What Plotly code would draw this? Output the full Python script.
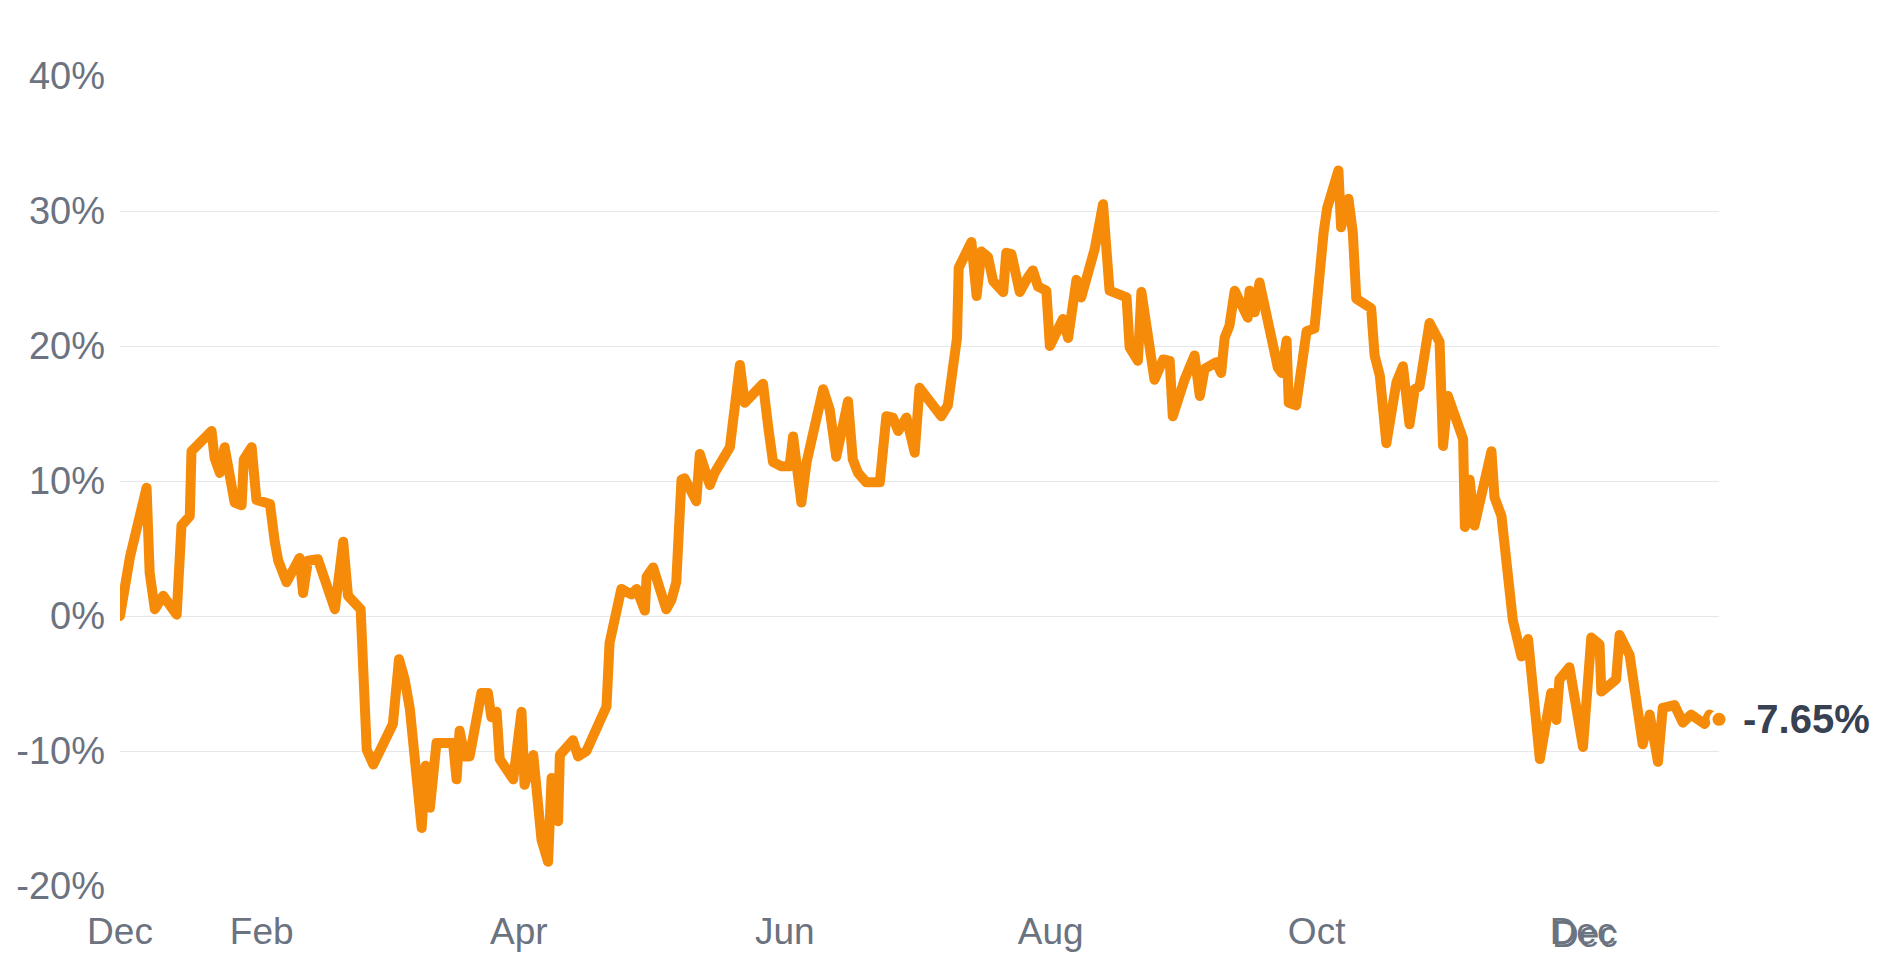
import pandas as pd
import plotly.graph_objects as go

# ---- data: day offsets from 2022-12-30 and cumulative return (%) ----
start_date = "2022-12-30"
day_offsets = [
    0.5, 2.8, 6.6, 7.3, 8.5, 10.4, 13.5, 14.6, 16.5, 16.9, 21.5, 22.2, 23.4, 24.5, 26.8, 28.4, 28.9,
    30.7, 31.8, 34.9, 36.0, 36.8, 38.7, 41.7, 42.5, 43.6, 45.9, 49.8, 51.7, 52.8, 55.7, 56.4, 57.1,
    58.6, 60.8, 63.1, 64.5, 65.8, 67.0, 69.7, 70.6, 71.6, 73.1, 76.9, 77.7, 78.4, 79.6, 80.7, 83.4,
    84.9, 85.7, 86.9, 87.6, 90.7, 92.6, 93.3, 95.3, 97.2, 98.7, 99.5, 101.0, 101.4, 104.4, 105.6,
    107.5, 112.1, 112.8, 113.8, 115.5, 117.8, 119.0, 120.9, 121.3, 122.8, 125.8, 127.0, 128.1,
    129.3, 130.0, 132.7, 133.5, 135.8, 136.9, 140.4, 142.7, 143.8, 148.0, 149.2, 150.3, 152.2,
    154.1, 154.9, 156.8, 158.0, 161.8, 163.3, 164.8, 167.5, 168.6, 169.8, 171.7, 174.8, 176.3,
    177.8, 179.0, 180.9, 182.8, 183.9, 185.1, 188.9, 190.4, 192.0, 192.5, 192.9, 195.8, 197.0,
    198.1, 199.6, 200.8, 203.1, 203.8, 205.0, 206.9, 208.8, 209.9, 211.1, 213.0, 213.8, 216.8,
    218.0, 219.9, 221.0, 224.1, 226.0, 227.1, 227.5, 231.4, 232.1, 234.0, 234.8, 237.8, 239.8,
    241.3, 242.0, 244.7, 247.0, 248.2, 249.3, 252.0, 253.1, 253.9, 255.0, 256.2, 259.2, 259.6,
    260.8, 261.9, 263.8, 266.1, 267.0, 268.1, 268.6, 270.3, 272.7, 274.5, 276.6, 277.4, 280.0,
    280.6, 282.3, 283.3, 284.1, 287.5, 288.3, 289.5, 291.0, 293.3, 294.8, 296.3, 297.5, 298.6,
    300.9, 303.2, 304.0, 305.1, 308.6, 309.0, 310.1, 311.2, 315.1, 315.8, 317.4, 320.0, 322.0,
    323.5, 326.2, 328.8, 330.0, 330.7, 333.0, 336.1, 338.0, 339.9, 340.3, 343.7, 344.5, 346.8,
    349.8, 351.4, 353.3, 354.4, 357.1, 359.0, 360.9, 364.0, 365.1, 367.3,
]
returns_pct = [
    0.0, 4.4, 9.5, 3.2, 0.5, 1.5, 0.1, 6.7, 7.4, 12.2, 13.7, 11.7, 10.6, 12.5, 8.4, 8.2, 11.6,
    12.5, 8.6, 8.3, 5.5, 4.1, 2.5, 4.3, 1.7, 4.1, 4.2, 0.5, 5.5, 1.5, 0.5, -5.9, -9.9,
    -11.0, -9.4, -8.0, -3.2, -4.7, -6.9, -15.7, -11.1, -14.2, -9.4, -9.4, -12.1, -8.5, -10.4, -10.4, -5.7,
    -5.7, -7.5, -7.1, -10.6, -12.1, -7.1, -12.5, -10.3, -16.6, -18.2, -12.0, -15.2, -10.3, -9.2, -10.4,
    -10.0, -6.7, -2.0, -0.3, 2.0, 1.6, 2.0, 0.4, 2.9, 3.6, 0.5, 1.2, 2.5,
    10.1, 10.2, 8.5, 12.0, 9.7, 10.6, 12.5, 18.6, 15.8, 17.2, 14.0, 11.4, 11.1,
    11.1, 13.3, 8.4, 11.4, 16.8, 15.3, 11.8, 15.9, 11.6, 10.6, 9.9, 9.9, 14.8,
    14.7, 13.7, 14.7, 12.1, 16.9, 16.4, 14.8, 15.6, 19.3, 20.6, 25.8, 27.7, 23.7,
    27.0, 26.6, 24.8, 24.0, 26.9, 26.8, 24.0, 25.1, 25.6, 24.4, 24.1, 20.0, 22.0,
    20.6, 24.9, 23.6, 27.2, 30.5, 25.2, 24.1, 23.6, 19.9, 18.9, 24.0, 17.5, 19.0,
    18.9, 14.8, 17.5, 19.3, 16.3, 18.3, 18.8, 18.0, 20.6, 21.5, 24.1, 22.1, 24.1,
    22.5, 24.7, 22.0, 18.4, 18.0, 20.4, 15.8, 15.6, 21.1, 21.3, 28.4, 30.2, 33.0,
    28.8, 30.9, 28.4, 23.5, 22.8, 19.3, 17.8, 12.8, 17.3, 18.5, 14.2, 16.8, 17.0,
    21.7, 20.3, 12.6, 16.3, 13.1, 6.6, 10.1, 6.7, 12.2, 8.8, 7.4, -0.3, -3.0,
    -1.7, -10.6, -5.7, -7.7, -4.7, -3.8, -9.7, -1.6, -2.1, -5.6, -4.7, -1.4, -2.9,
    -9.5, -7.3, -10.8, -6.8, -6.6, -7.9, -7.3, -8.0, -7.3, -7.65,
]
tick_offsets = [0.5, 33, 92, 153, 214, 275, 336]
tick_labels = ["Dec", "Feb", "Apr", "Jun", "Aug", "Oct", "Dec"]
y_ticks = [-20, -10, 0, 10, 20, 30, 40]
y_tick_labels = ["-20%", "-10%", "0%", "10%", "20%", "30%", "40%"]
last_label = "-7.65%"

base = pd.Timestamp(start_date)
dates = [base + pd.Timedelta(days=d) for d in day_offsets]
tick_dates = [base + pd.Timedelta(days=d) for d in tick_offsets]

ORANGE = "#f58b08"
GRID = "#e6e7eb"
TICK = "#6b7280"
DARK = "#374151"
FONT = "Liberation Sans, Arial, sans-serif"

fig = go.Figure()
fig.add_trace(go.Scatter(
    x=dates, y=returns_pct, mode="lines",
    line=dict(color=ORANGE, width=10, shape="linear"),
    hoverinfo="skip", showlegend=False,
))
fig.add_trace(go.Scatter(
    x=[dates[-1]], y=[returns_pct[-1]], mode="markers",
    marker=dict(color=ORANGE, size=16, line=dict(color="white", width=3)),
    hoverinfo="skip", showlegend=False, cliponaxis=False,
))

fig.add_annotation(
    x=dates[-1], y=returns_pct[-1], xref="x", yref="y",
    text=f"<b>{last_label}</b>", showarrow=False, xanchor="left", yanchor="middle",
    xshift=22, font=dict(family=FONT, size=40, color=DARK),
)
# doubled last "Dec" label (overprinted look)
fig.add_annotation(
    x=tick_dates[-1], y=0, xref="x", yref="paper",
    text=tick_labels[-1], showarrow=False, xanchor="center", yanchor="top",
    xshift=2, yshift=-26, font=dict(family=FONT, size=37, color=TICK),
)

fig.update_layout(
    width=1892, height=966,
    margin=dict(l=120, r=173, t=76, b=80),
    paper_bgcolor="white", plot_bgcolor="white",
    font=dict(family=FONT, color=TICK),
)
fig.update_xaxes(
    type="date",
    range=[dates[0], dates[-1]],
    tickmode="array", tickvals=tick_dates, ticktext=tick_labels,
    showgrid=False, zeroline=False, showline=False, ticks="",
    tickfont=dict(family=FONT, size=37, color=TICK),
    ticklabelstandoff=20,
)
fig.update_yaxes(
    range=[-20, 40],
    tickmode="array", tickvals=y_ticks, ticktext=y_tick_labels,
    showgrid=True, gridcolor=GRID, gridwidth=1.2,
    zeroline=False, showline=False, ticks="",
    tickfont=dict(family=FONT, size=38, color=TICK),
    ticklabelstandoff=14,
)

post = (
    "document.body.style.margin='0';"
    "document.querySelectorAll('.scatterlayer path.js-line').forEach(function(p){"
    "p.style.strokeLinejoin='round';p.style.strokeLinecap='round';});"
)
fig.write_html("out.html", config={"displayModeBar": False}, post_script=post)
